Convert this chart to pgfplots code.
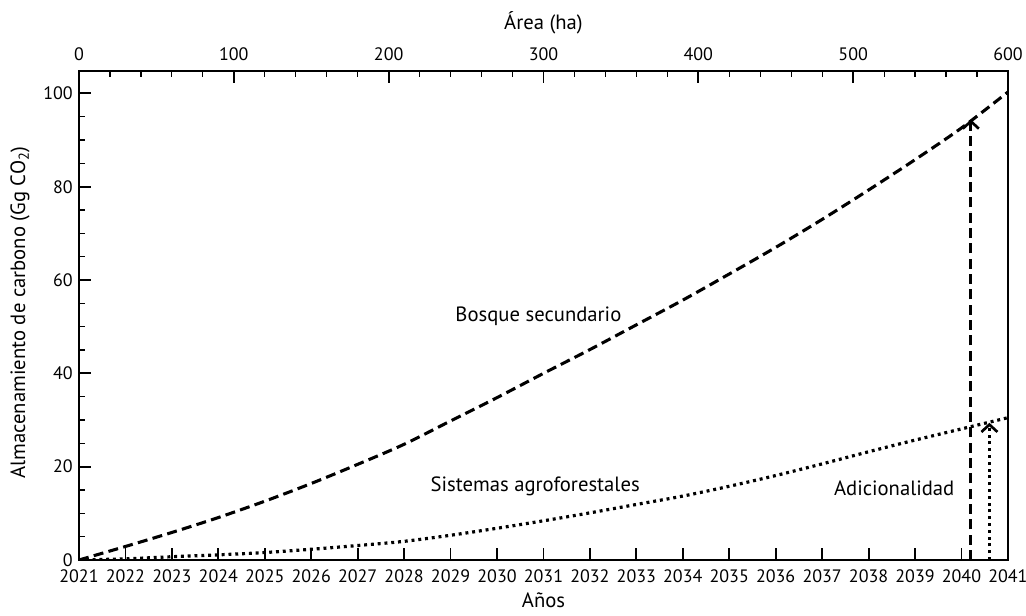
\documentclass[border=0pt]{standalone}
\usepackage{fontspec}
\setmainfont{PT Sans}
\usepackage{pgfplots}
\pgfplotsset{compat=1.18}
\usetikzlibrary{arrows.meta}

\pgfplotstableread{
x y
2021 0
2022 2.9
2023 5.9
2024 9.1
2025 12.6
2026 16.4
2027 20.5
2028 24.8
2029 29.8
2030 34.8
2031 40.0
2032 45.1
2033 50.4
2034 55.7
2035 61.3
2036 67.0
2037 73.0
2038 79.3
2039 85.8
2040 92.6
2041 100.3
}\bosque

\pgfplotstableread{
x y
2021 0
2022 0.25
2023 0.7
2024 1.1
2025 1.6
2026 2.3
2027 3.1
2028 4.0
2029 5.3
2030 6.8
2031 8.4
2032 10.1
2033 11.9
2034 13.7
2035 15.8
2036 18.1
2037 20.6
2038 23.2
2039 25.7
2040 28.1
2041 30.5
}\agro

\begin{document}
\begin{tikzpicture}
\pgfplotsset{
  common/.style={
    scale only axis, width=696.75pt, height=366.75pt,
    tick align=inside,
    major tick length=9pt, minor tick length=4.6pt,
    major tick style={black, line width=1.4pt},
    minor tick style={black, line width=0.9pt},
    axis line style={black, line width=1.5pt, -},
    tick label style={font=\fontsize{13.5}{15}\selectfont, /pgf/number format/assume math mode=true},
  }
}
\begin{axis}[common, name=ax,
  xmin=2021, xmax=2041, ymin=0, ymax=104.8,
  xtick={2021,2022,...,2041},
  xticklabel style={/pgf/number format/1000 sep={}, yshift=-4pt},
  ytick={0,20,...,100}, minor y tick num=3,
  xtick pos=left, ytick pos=left,
  yticklabel style={xshift=-1.2pt},
  xlabel={Años},
  ylabel={Almacenamiento de carbono (Gg CO\textsubscript{2})},
  every axis x label/.style={at={(axis description cs:0.5,0)}, yshift=-30pt, anchor=center, font=\fontsize{15.5}{17}\selectfont},
  every axis y label/.style={at={(axis description cs:-0.0635,0.506)}, rotate=90, anchor=center, font=\fontsize{15.5}{17}\selectfont},
  clip=true,
]
\addplot[black, line width=2.3pt, dash pattern=on 7.5pt off 4pt, smooth] table[x=x,y=y] {\bosque};
\addplot[black, line width=2.4pt, dash pattern=on 2.2pt off 2.9pt, smooth] table[x=x,y=y] {\agro};
\addplot[black, line width=2.3pt, dash pattern=on 7.5pt off 4pt, -{Straight Barb[length=5.5pt,width=12pt,line width=2pt]}] coordinates {(2040.2,0) (2040.2,94.4)};
\addplot[black, line width=2.4pt, dash pattern=on 2.2pt off 2.9pt, -{Straight Barb[length=5.5pt,width=12pt,line width=2pt]}] coordinates {(2040.6,0) (2040.6,29.4)};
\node[font=\fontsize{15.5}{17}\selectfont] at (axis cs:2030.89,52.3) {Bosque secundario};
\node[font=\fontsize{15.5}{17}\selectfont] at (axis cs:2030.82,15.8) {Sistemas agroforestales};
\node[font=\fontsize{15.5}{17}\selectfont] at (axis cs:2038.55,15.4) {Adicionalidad};
\end{axis}
\begin{axis}[common,
  xmin=0, xmax=600, ymin=0, ymax=1,
  hide y axis,
  xtick={0,100,...,600}, minor x tick num=4,
  xtick pos=right, xticklabel pos=right,
  xticklabel style={yshift=4.5pt},
  xlabel={Área (ha)},
  every axis x label/.style={at={(axis description cs:0.5,1)}, yshift=36pt, anchor=center, font=\fontsize{15.5}{17}\selectfont},
]
\addplot[draw=none] coordinates {(0,0) (600,1)};
\end{axis}
\pgfresetboundingbox
\path ([shift={(-59.25pt,-42pt)}]ax.south west) rectangle ([shift={(13.5pt,53.25pt)}]ax.north east);
\end{tikzpicture}
\end{document}
